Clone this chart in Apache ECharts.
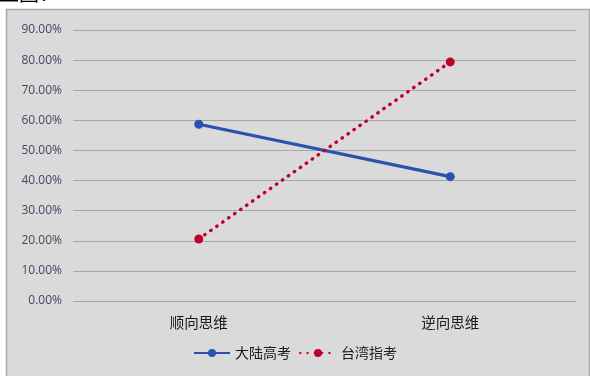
<!DOCTYPE html>
<html>
<head>
<meta charset="utf-8">
<style>
  html, body { margin: 0; padding: 0; background: #ffffff; }
  #chart { width: 590px; height: 376px; }
</style>
<script src="https://cdn.jsdelivr.net/npm/echarts@6/dist/echarts.min.js"></script>
</head>
<body>
<div id="chart"></div>
<script>
// Thinking direction categories and the share of answers per exam
const categories = ['顺向思维', '逆向思维'];
const mainlandGaokao = [58.7, 41.3];   // 大陆高考 (%)
const taiwanExam = [20.6, 79.4];       // 台湾指考 (%)
const seriesNames = ['大陆高考', '台湾指考'];

const cjk = '"Noto Sans CJK SC", "Microsoft YaHei", sans-serif';

const chart = echarts.init(document.getElementById('chart'), null, { renderer: 'canvas' });

chart.setOption({
  animation: false,
  backgroundColor: '#ffffff',
  graphic: [
    {
      type: 'rect',
      z: -10,
      shape: { x: 6.5, y: 9.5, width: 583, height: 380 },
      style: { fill: '#dadada', stroke: '#a9a9a9', lineWidth: 1.5 }
    },
    {
      type: 'text',
      z: -5,
      left: -1,
      top: -17,
      style: { text: '上图：', font: '20px ' + cjk, fill: '#000000' }
    }
  ],
  grid: { left: 73, right: 14, top: 30, bottom: 75, containLabel: false },
  legend: {
    bottom: 11,
    left: 'center',
    itemWidth: 36,
    itemHeight: 10,
    itemGap: 8,
    textStyle: { fontFamily: cjk, fontSize: 14, color: '#1a1a1a' },
    data: seriesNames
  },
  xAxis: {
    type: 'category',
    data: categories,
    boundaryGap: true,
    axisLine: { show: false },
    axisTick: { show: false },
    axisLabel: { fontFamily: cjk, fontSize: 14.5, color: '#1a1a1a', margin: 14 }
  },
  yAxis: {
    type: 'value',
    min: 0,
    max: 90,
    interval: 10,
    axisLine: { show: false },
    axisTick: { show: false },
    axisLabel: {
      fontFamily: '"Open Sans", sans-serif',
      fontSize: 12,
      color: '#3f4a60',
      margin: 11,
      formatter: v => v.toFixed(2) + '%'
    },
    splitLine: { lineStyle: { color: '#a6a6a6', width: 1.2 } }
  },
  series: [
    {
      name: seriesNames[0],
      type: 'line',
      data: mainlandGaokao,
      symbol: 'circle',
      symbolSize: 9,
      color: '#2a52b0',
      lineStyle: { color: '#2a52b0', width: 3.2 },
      itemStyle: { color: '#2a52b0' }
    },
    {
      name: seriesNames[1],
      type: 'line',
      data: taiwanExam,
      symbol: 'circle',
      symbolSize: 9,
      color: '#c0002c',
      lineStyle: { color: '#c0002c', width: 3.4, type: [0.5, 6.8], cap: 'round' },
      itemStyle: { color: '#c0002c' }
    }
  ]
});
</script>
</body>
</html>
